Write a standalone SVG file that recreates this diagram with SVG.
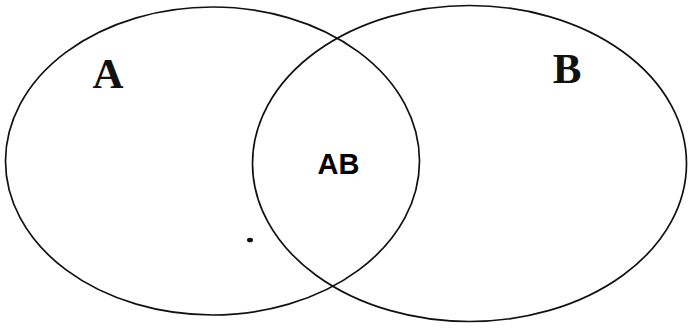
<svg xmlns="http://www.w3.org/2000/svg" width="689" height="329" viewBox="0 0 689 329">
  <style>
    .set { fill: none; stroke: #111; stroke-width: 1.7; }
    .lbl { font-family: "Liberation Serif", "Times New Roman", serif; font-weight: bold; font-size: 43px; fill: #111; }
    .mid { font-family: "Liberation Sans", Arial, sans-serif; font-weight: bold; font-size: 29px; fill: #000; }
  </style>
  <rect width="689" height="329" fill="#fff"/>
  <g id="setA">
    <ellipse class="set" cx="212.5" cy="161" rx="207" ry="154"/>
    <text class="lbl" x="108" y="88" text-anchor="middle">A</text>
  </g>
  <g id="setB">
    <ellipse class="set" cx="469.5" cy="163.5" rx="217" ry="158"/>
    <text class="lbl" x="567" y="83" text-anchor="middle">B</text>
  </g>
  <g id="intersection">
    <text class="mid" x="338.5" y="174" text-anchor="middle">AB</text>
  </g>
  <g id="connectors"></g>
  <ellipse cx="250" cy="240" rx="3" ry="2.3" fill="#111"/>
</svg>
